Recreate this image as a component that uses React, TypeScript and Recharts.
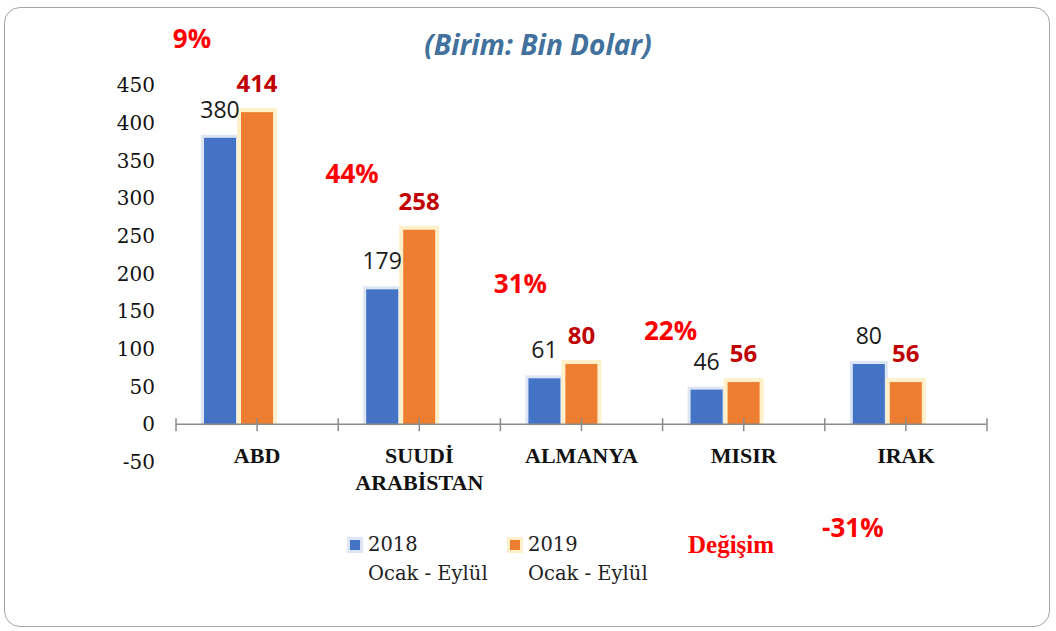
import React from 'react';
import { ComposedChart, Bar, XAxis, YAxis, ReferenceLine, Legend, LabelList } from 'recharts';

// export values, thousand USD (Jan - Sep)
const countries = ['ABD', 'SUUDİ ARABİSTAN', 'ALMANYA', 'MISIR', 'IRAK'];
const exports2018 = [380, 179, 61, 46, 80];
const exports2019 = [414, 258, 80, 56, 56];
const changePct = [9, 44, 31, 22, -31];
const yTicks = [-50, 0, 50, 100, 150, 200, 250, 300, 350, 400, 450];
const seriesNames = ['2018 Ocak - Eylül', '2019 Ocak - Eylül', 'Değişim'];

const data = countries.map((c, i) => ({
  country: c,
  y2018: exports2018[i],
  y2019: exports2019[i],
  change: changePct[i],
}));

// layout
const W = 1056;
const H = 631;
const PLOT_LEFT = 176;
const PLOT_RIGHT = 987;
const PLOT_TOP = 85;
const PLOT_BOTTOM = 462;
const Y_MIN = -50;
const Y_MAX = 450;
const BAND = (PLOT_RIGHT - PLOT_LEFT) / countries.length;
const yOf = (v: number) => PLOT_TOP + ((Y_MAX - v) / (Y_MAX - Y_MIN)) * (PLOT_BOTTOM - PLOT_TOP);
const ZERO_Y = yOf(0);

const BLUE = '#4472C4';
const ORANGE = '#ED7D31';
const BLUE_HALO = '#dde6f5';
const ORANGE_HALO = '#fff0c9';
const serif = '"DejaVu Serif", serif';
const boldSerif = '"Liberation Serif", serif';
const sans = '"Open Sans", sans-serif';

// the % labels were dragged by hand in the original; dx from the hidden bar, at = y in axis units
const changeLabelSpots = [
  { dx: -86, at: 512 },
  { dx: -88, at: 333 },
  { dx: -82, at: 187 },
  { dx: -94, at: 125 },
  { dx: -74, at: -136 },
];

const glowBar = (halo: string, spread: number) => (p: any) => {
  const { x, y, width, height, fill } = p;
  if (!height || height <= 0) return <g />;
  return (
    <g>
      <rect x={x - spread} y={y - spread} width={width + spread * 2} height={height + spread + 1} fill={halo} />
      <rect x={x} y={y} width={width} height={height} fill={fill} />
    </g>
  );
};

const valueLabel = (color: string, weight: number, size: number) => (p: any) => (
  <text
    x={p.x + p.width / 2}
    y={p.y - 20}
    textAnchor="middle"
    fill={color}
    fontFamily={sans}
    fontWeight={weight}
    fontSize={size}
  >
    {p.value}
  </text>
);

const changeLabel = (p: any) => {
  const spot = changeLabelSpots[p.index];
  if (!spot) return null;
  return (
    <text
      x={p.x + spot.dx}
      y={yOf(spot.at)}
      textAnchor="middle"
      dominantBaseline="central"
      fill="#FF0000"
      fontFamily={sans}
      fontWeight={700}
      fontSize={26}
    >
      {p.value}%
    </text>
  );
};

const CountryTick = (p: any) => {
  const { x, payload, index } = p;
  const lines = String(payload.value).split(' ');
  const half = BAND / 2;
  const mark = (mx: number) => (
    <line x1={mx} x2={mx} y1={ZERO_Y - 6} y2={ZERO_Y + 7} stroke="#8c8c8c" strokeWidth={1.5} />
  );
  return (
    <g>
      {mark(x - half)}
      {mark(x)}
      {index === countries.length - 1 && mark(x + half)}
      <text textAnchor="middle" fill="#111" fontFamily={boldSerif} fontWeight={700} fontSize={22}>
        {lines.map((l, i) => (
          <tspan key={i} x={x} y={ZERO_Y + 39 + i * 27}>
            {l}
          </tspan>
        ))}
      </text>
    </g>
  );
};

const LegendBox = (props: any) => {
  const items = props.payload || [];
  return (
    <div style={{ display: 'flex' }}>
      {items.map((it: any, i: number) => {
        const isChange = it.dataKey === 'change';
        const [first, ...rest] = String(it.value).split(' ');
        const halo = it.dataKey === 'y2018' ? BLUE_HALO : ORANGE_HALO;
        return (
          <div key={i} style={{ width: 160, display: 'flex', alignItems: 'flex-start' }}>
            <div style={{ width: 16, height: 16, marginTop: 7, marginRight: 5, flexShrink: 0, background: isChange ? 'transparent' : halo, position: 'relative' }}>
              {!isChange && (
                <div style={{ position: 'absolute', left: 3, top: 3, width: 10, height: 10, background: it.color }} />
              )}
            </div>
            {isChange ? (
              <div style={{ fontFamily: boldSerif, fontWeight: 700, fontSize: 25, lineHeight: '29px', color: '#FF0000' }}>
                {it.value}
              </div>
            ) : (
              <div style={{ fontFamily: serif, fontSize: 19.5, lineHeight: '29px', color: '#222', whiteSpace: 'nowrap' }}>
                <div>{first}</div>
                <div>{rest.join(' ')}</div>
              </div>
            )}
          </div>
        );
      })}
    </div>
  );
};

export default function App() {
  return (
    <div style={{ position: 'absolute', left: 0, top: 0, width: W, height: H, background: '#fff' }}>
      <div
        style={{
          position: 'absolute',
          left: 4,
          top: 7,
          width: 1044,
          height: 618,
          border: '1.5px solid #a6a6a6',
          borderRadius: 16,
        }}
      />
      <div
        style={{
          position: 'absolute',
          left: 338,
          top: 25,
          width: 400,
          textAlign: 'center',
          fontFamily: sans,
          fontStyle: 'italic',
          fontWeight: 700,
          fontSize: 28,
          color: '#41719C',
        }}
      >
        (Birim: Bin Dolar)
      </div>
      <div style={{ position: 'absolute', left: 0, top: 0 }}>
        <ComposedChart
          width={W}
          height={H}
          data={data}
          margin={{ top: PLOT_TOP, right: W - PLOT_RIGHT, bottom: H - PLOT_BOTTOM - 60, left: PLOT_LEFT - 60 }}
          barGap={5}
          barSize={32}
        >
          <YAxis
            width={60}
            domain={[Y_MIN, Y_MAX]}
            ticks={yTicks}
            interval={0}
            axisLine={false}
            tickLine={false}
            tickMargin={15}
            tick={{ fill: '#111', fontFamily: serif, fontSize: 20 }}
          />
          <XAxis dataKey="country" height={60} axisLine={false} tickLine={false} interval={0} tick={<CountryTick />} />
          <ReferenceLine y={0} stroke="#8c8c8c" strokeWidth={1.5} />
          <Bar dataKey="y2018" name={seriesNames[0]} fill={BLUE} shape={glowBar(BLUE_HALO, 3)} isAnimationActive={false}>
            <LabelList dataKey="y2018" content={valueLabel('#1a1a1a', 400, 23)} />
          </Bar>
          <Bar dataKey="y2019" name={seriesNames[1]} fill={ORANGE} shape={glowBar(ORANGE_HALO, 4)} isAnimationActive={false}>
            <LabelList dataKey="y2019" content={valueLabel('#C00000', 700, 24)} />
          </Bar>
          <Bar dataKey="change" name={seriesNames[2]} fill="#FF0000" shape={() => <g />} isAnimationActive={false}>
            <LabelList dataKey="change" content={changeLabel} />
          </Bar>
          <Legend
            layout="horizontal"
            verticalAlign="middle"
            align="center"
            content={<LegendBox />}
            wrapperStyle={{ left: 347, top: 530, width: 520 }}
          />
        </ComposedChart>
      </div>
    </div>
  );
}
